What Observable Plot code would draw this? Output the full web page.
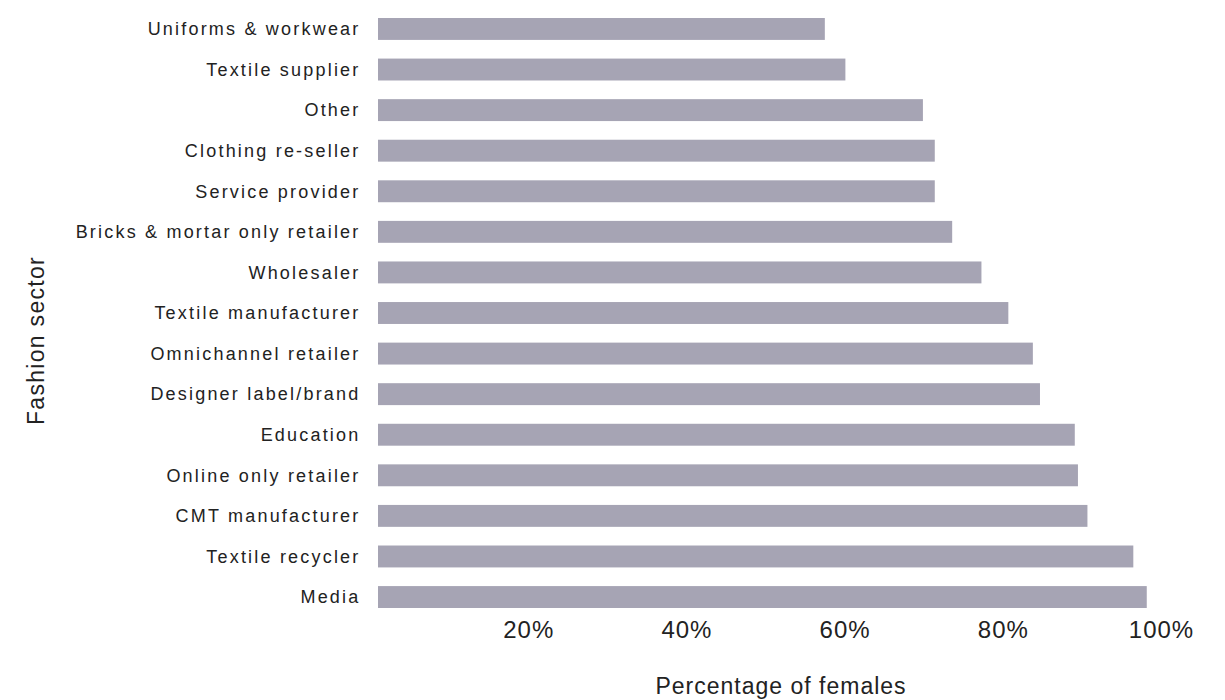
<!DOCTYPE html>
<html>
<head>
<meta charset="utf-8">
<script src="https://cdn.jsdelivr.net/npm/d3@7"></script>
<script src="https://cdn.jsdelivr.net/npm/@observablehq/plot@0.6"></script>
<style>
  html, body { margin: 0; padding: 0; background: #fff; }
  #chart svg { display: block; }
  #chart g[aria-label="y-axis tick label"] text { letter-spacing: 2.2px; }
  #chart g[aria-label="x-axis tick label"] text { letter-spacing: 1px; }
  #chart g.xlab text { letter-spacing: 1px; }
  #chart g.ylab text { letter-spacing: 1.3px; }
</style>
</head>
<body>
<div id="chart"></div>
<script>
const sectors = [
  "Uniforms & workwear", "Textile supplier", "Other", "Clothing re-seller",
  "Service provider", "Bricks & mortar only retailer", "Wholesaler",
  "Textile manufacturer", "Omnichannel retailer", "Designer label/brand",
  "Education", "Online only retailer", "CMT manufacturer", "Textile recycler", "Media"
];
const femalePct = [57.5, 60.1, 69.9, 71.4, 71.4, 73.6, 77.3, 80.7, 83.8, 84.7, 89.1, 89.5, 90.7, 96.5, 98.2];
const xTicks = [20, 40, 60, 80, 100];
const xLabel = "Percentage of females";
const yLabel = "Fashion sector";

const data = sectors.map((s, i) => ({sector: s, value: femalePct[i]}));
const font = "'Liberation Sans', Arial, sans-serif";

const chart = Plot.plot({
  width: 1225,
  height: 700,
  marginTop: 18,
  marginBottom: 92,
  marginLeft: 370,
  marginRight: 64,
  style: {fontFamily: font, color: "#222", background: "#fff"},
  x: {domain: [0, 100], axis: null},
  y: {domain: sectors, paddingInner: 0.46, paddingOuter: 0, round: false, axis: null},
  marks: [
    Plot.barX(data, {x: "value", y: "sector", fill: "#a6a4b4", insetLeft: 8}),
    Plot.axisX({ticks: xTicks, tickFormat: d => d + "%", tickSize: 0, tickPadding: 12, fontSize: 24, label: null, anchor: "bottom"}),
    Plot.axisY({tickSize: 0, tickPadding: 10, fontSize: 18, label: null, anchor: "left"}),
    Plot.text([xLabel], {frameAnchor: "bottom", dy: 85, dx: 15, fontSize: 23, className: "xlab"}),
    Plot.text([yLabel], {frameAnchor: "left", textAnchor: "middle", dx: -334, dy: 27, rotate: -90, fontSize: 23, className: "ylab"})
  ]
});
document.getElementById("chart").append(chart);
</script>
</body>
</html>
